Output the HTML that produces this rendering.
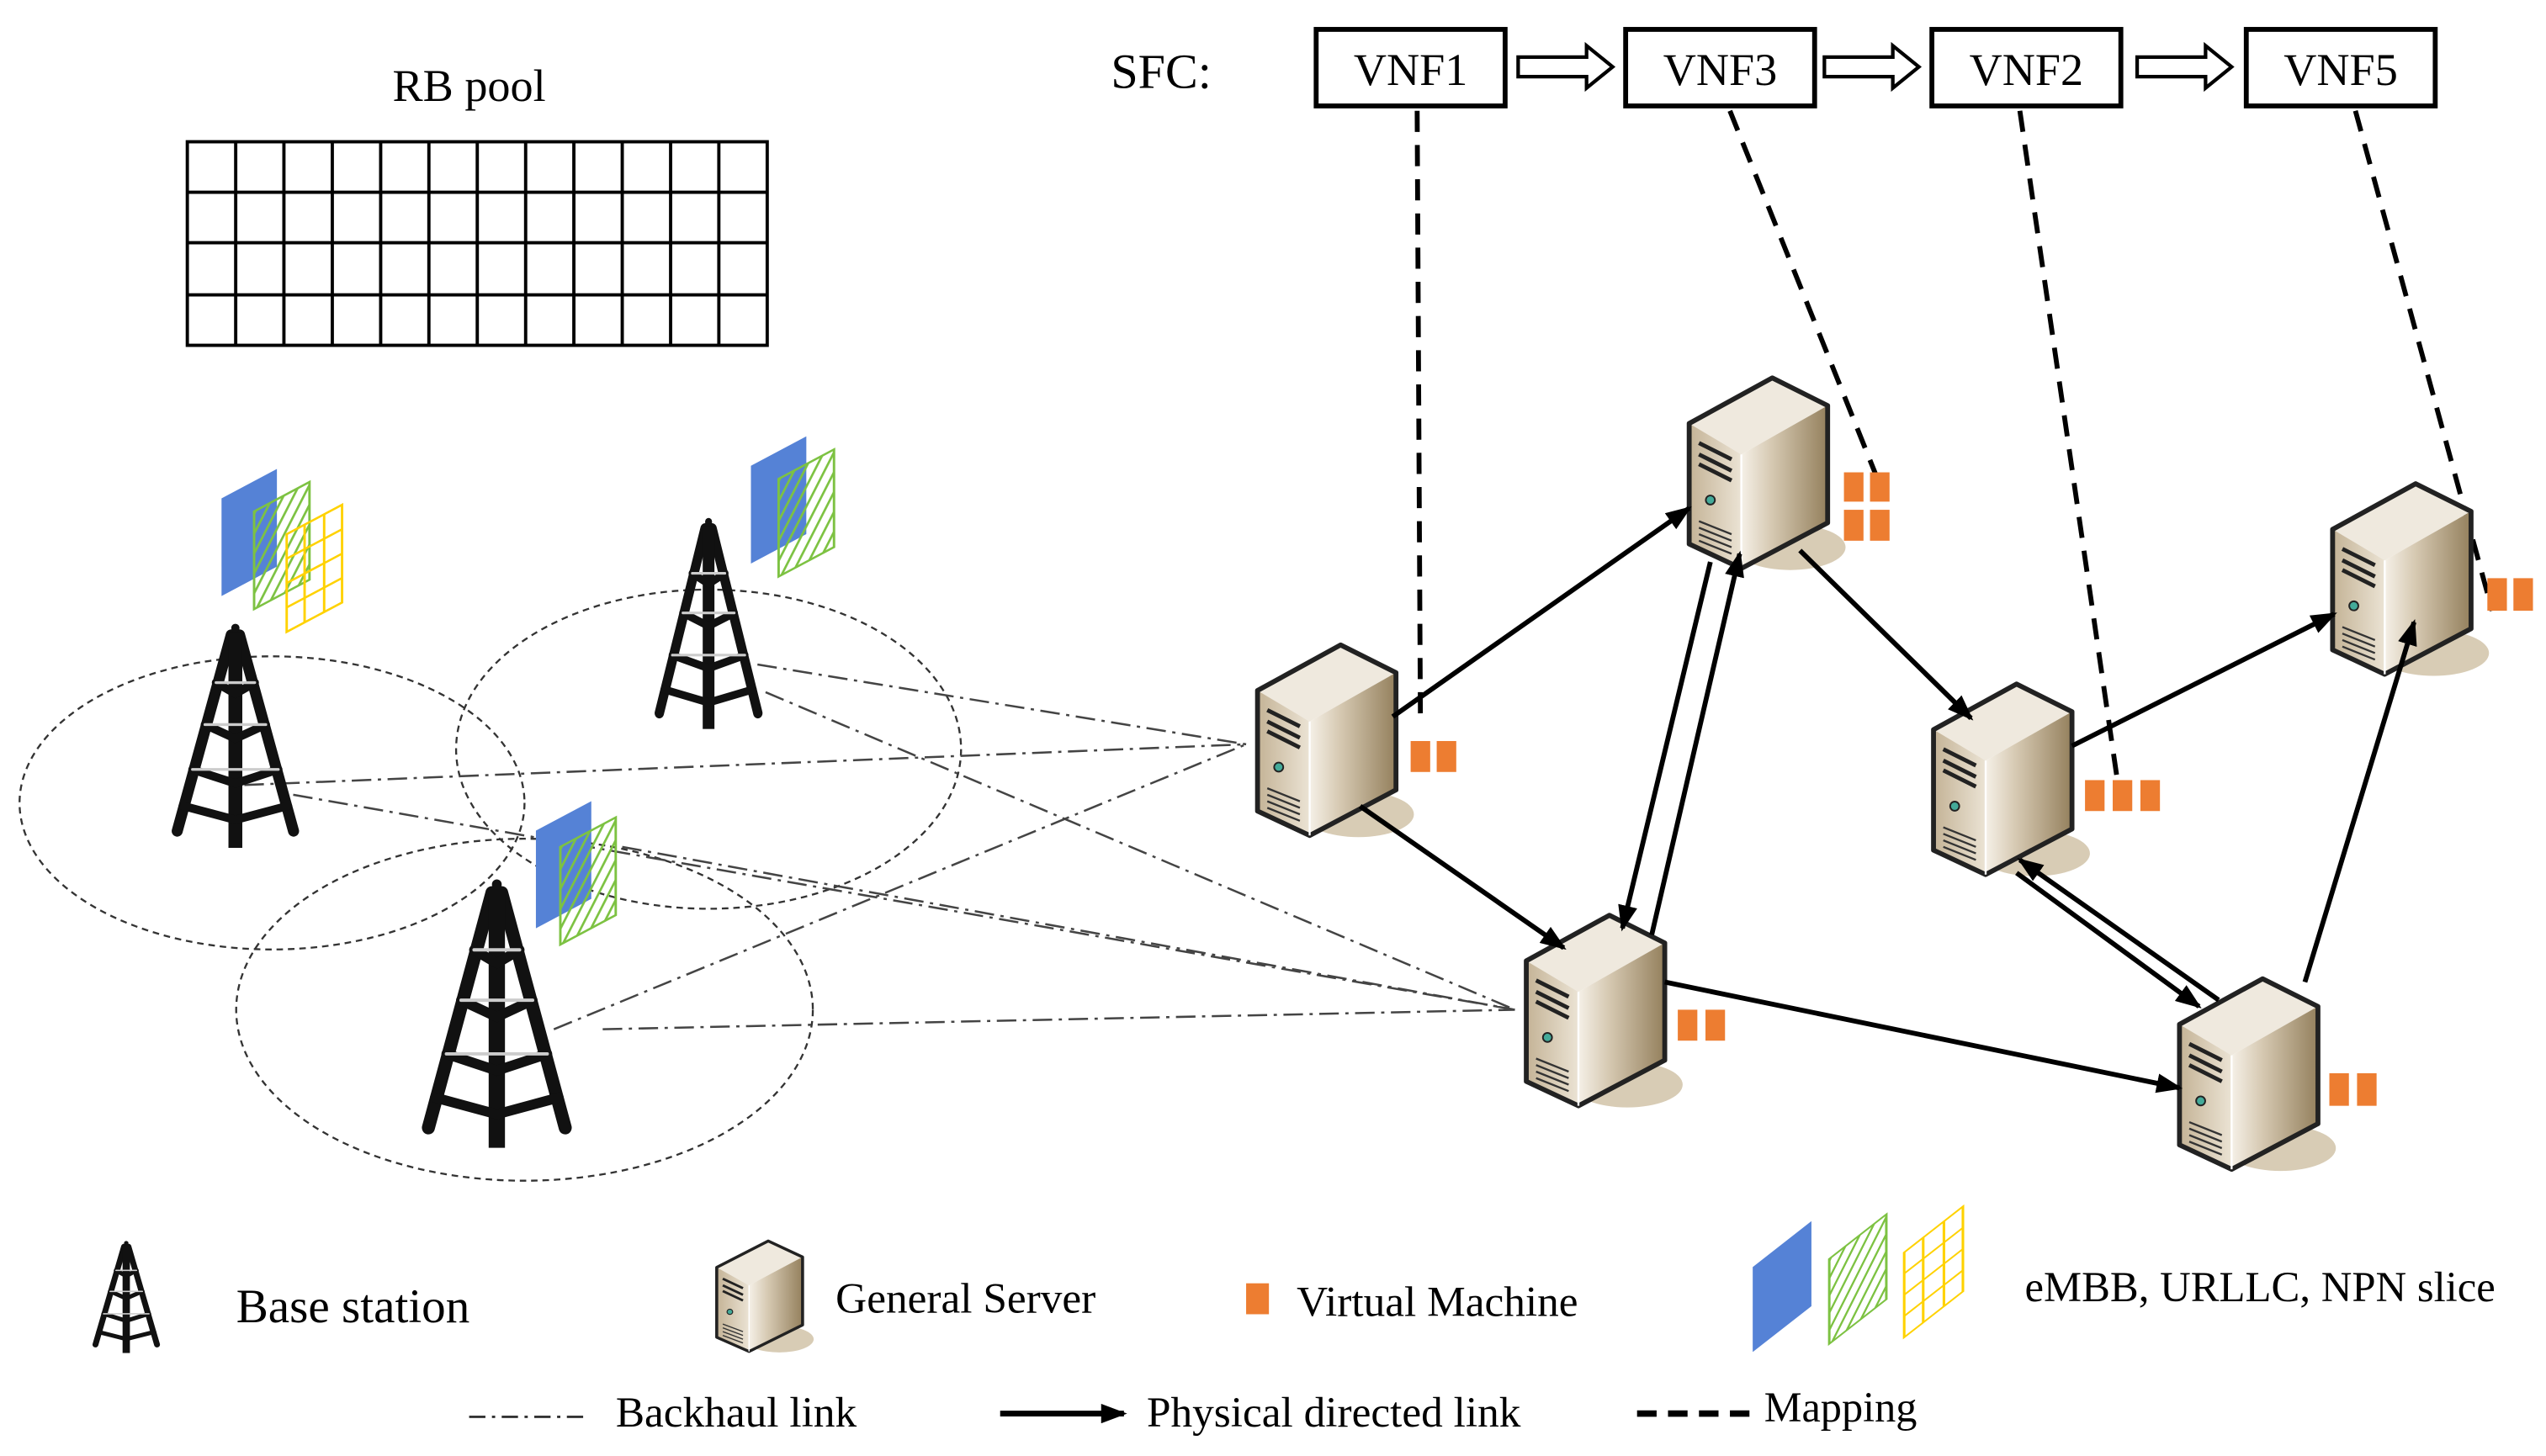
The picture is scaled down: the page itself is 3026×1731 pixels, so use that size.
<!DOCTYPE html>
<html><head><meta charset="utf-8"><style>html,body{margin:0;padding:0;background:#fff}svg{display:block}</style></head><body>
<svg width="3026" height="1731" viewBox="0 0 1563 894" xmlns="http://www.w3.org/2000/svg" font-family="'Liberation Serif', serif">
<defs>
<linearGradient id="rf" x1="0" x2="1" y1="0" y2="0"><stop offset="0" stop-color="#f5f0e7"/><stop offset="0.35" stop-color="#d6c9b2"/><stop offset="1" stop-color="#94805d"/></linearGradient>
<linearGradient id="lf" x1="0" x2="1"><stop offset="0" stop-color="#c4b396"/><stop offset="1" stop-color="#ebe3d4"/></linearGradient>
<g id="srv">
<ellipse cx="62" cy="104" rx="34" ry="14" fill="#d8ccb5"/>
<polygon points="0,28 51,0 85,17 32,47" fill="#efe9de"/>
<polygon points="0,28 32,47 32,117 0,102" fill="url(#lf)"/>
<polygon points="32,47 85,17 85,89 32,117" fill="url(#rf)"/>
<polygon points="0,28 51,0 85,17 85,89 32,117 0,102" fill="none" stroke="#222" stroke-width="3" stroke-linejoin="round"/>
<line x1="32" y1="47" x2="32" y2="117" stroke="#fff" stroke-width="1.2"/>
<path d="M6,40 L26,50 M6,47 L26,57 M6,53 L26,63" stroke="#222" stroke-width="2.5"/>
<circle cx="13" cy="75" r="2.8" fill="#4a9" stroke="#222" stroke-width="1"/>
<path d="M6,88 L26,96 M6,92 L26,100 M6,96 L26,104 M6,100 L26,108" stroke="#333" stroke-width="1.2"/>
</g>
<g id="twr" fill="none" stroke="#111" stroke-linecap="round">
<path d="M47,8 L8,148 M53,8 L92,148" stroke-width="8"/>
<rect x="45" y="6" width="10" height="154" fill="#111" stroke="none"/>
<path d="M36,42 L50,50 L64,42 M28,72 L50,82 L72,72 M19,104 L50,114 L81,104 M12,130 L50,140 L88,130" stroke-width="6"/>
<path d="M36,42 L64,42 M28,72 L72,72 M19,104 L81,104" stroke="#ccc" stroke-width="2"/>
<circle cx="50" cy="3" r="3" fill="#111" stroke="none"/>
</g>
<pattern id="hatch" width="7" height="7" patternUnits="userSpaceOnUse" patternTransform="rotate(35)"><line x1="0" y1="0" x2="0" y2="7" stroke="#7dc242" stroke-width="3.5"/></pattern>
<g id="sl3"><rect x="0" y="0" width="34" height="60" fill="#5582d6"/></g>
<g id="slg"><rect x="0" y="0" width="34" height="60" fill="url(#hatch)" stroke="#7dc242" stroke-width="1.5"/></g>
<g id="sly" fill="none" stroke="#ffd200" stroke-width="1.5"><rect x="0" y="0" width="34" height="60"/><path d="M11,0V60M23,0V60M0,15H34M0,30H34M0,45H34"/></g>
<marker id="ah" markerUnits="userSpaceOnUse" markerWidth="16" markerHeight="12" refX="14" refY="6" orient="auto"><path d="M0,0 L16,6 L0,12 z" fill="#000"/></marker>
</defs>

<text x="288" y="62" font-size="28" text-anchor="middle">RB pool</text>
<g stroke="#000" stroke-width="2" fill="none">
<rect x="115" y="87" width="356" height="125"/>
<path d="M144.7,87V212M174.3,87V212M204,87V212M233.7,87V212M263.3,87V212M293,87V212M322.7,87V212M352.3,87V212M382,87V212M411.7,87V212M441.3,87V212M115,118H471M115,149H471M115,181H471"/>
</g>

<text x="682" y="54" font-size="30">SFC:</text>
<g stroke="#000" stroke-width="3" fill="#fff">
<rect x="808" y="18" width="116" height="47"/><rect x="998" y="18" width="116" height="47"/><rect x="1186" y="18" width="116" height="47"/><rect x="1379" y="18" width="116" height="47"/>
</g>
<g font-size="28" text-anchor="middle"><text x="866" y="52">VNF1</text><text x="1056" y="52">VNF3</text><text x="1244" y="52">VNF2</text><text x="1437" y="52">VNF5</text></g>
<g fill="#fff" stroke="#000" stroke-width="2.2">
<polygon points="932,35 974,35 974,28 990,41 974,54 974,47 932,47"/>
<polygon points="1120,35 1162,35 1162,28 1178,41 1162,54 1162,47 1120,47"/>
<polygon points="1312,35 1354,35 1354,28 1370,41 1354,54 1354,47 1312,47"/>
</g>

<g fill="none" stroke="#333" stroke-width="1.2" stroke-dasharray="4,3">
<ellipse cx="167" cy="493" rx="155" ry="90"/>
<ellipse cx="435" cy="460" rx="155" ry="98"/>
<ellipse cx="322" cy="620" rx="177" ry="105"/>
</g>
<g stroke="#444" stroke-width="1.3" stroke-dasharray="12,4,2,4" fill="none">
<path d="M150,482 L765,457 M180,488 L930,620 M465,408 L765,457 M470,425 L930,620 M340,632 L765,457 M370,632 L930,620 M382,520 L930,620"/>
</g>

<use href="#twr" transform="translate(102,383) scale(0.85,0.86)"/>
<use href="#twr" transform="translate(399,318) scale(0.72,0.81)"/>
<use href="#twr" transform="translate(255,540) scale(1.0,1.03)"/>

<g transform="translate(136,306) skewY(-28)"><use href="#sl3"/></g>
<g transform="translate(156,314) skewY(-28)"><use href="#slg"/></g>
<g transform="translate(176,328) skewY(-28)"><use href="#sly"/></g>
<g transform="translate(461,286) skewY(-28)"><use href="#sl3"/></g>
<g transform="translate(478,294) skewY(-28)"><use href="#slg"/></g>
<g transform="translate(329,510) skewY(-28)"><use href="#sl3"/></g>
<g transform="translate(344,520) skewY(-28)"><use href="#slg"/></g>

<g stroke="#000" stroke-width="3" stroke-dasharray="13,8" fill="none">
<path d="M870,68 L872,442 M1062,68 L1157,305 M1240,68 L1300,480 M1446,68 L1530,375"/>
</g>

<use href="#srv" transform="translate(772,396)"/>
<use href="#srv" transform="translate(1037,232)"/>
<use href="#srv" transform="translate(937,562)"/>
<use href="#srv" transform="translate(1187,420)"/>
<use href="#srv" transform="translate(1432,297)"/>
<use href="#srv" transform="translate(1338,601)"/>

<g stroke="#000" stroke-width="3" fill="none" marker-end="url(#ah)">
<path d="M855,440 L1037,312"/>
<path d="M835,495 L960,582"/>
<path d="M1050,345 L996,570"/>
<path d="M1014,574 L1068,340"/>
<path d="M1105,338 L1210,441"/>
<path d="M1022,603 L1338,668"/>
<path d="M1272,458 L1433,377"/>
<path d="M1362,614 L1240,528"/>
<path d="M1238,536 L1350,618"/>
<path d="M1415,603 L1482,382"/>
</g>

<g fill="#ed7d31">
<rect x="866" y="455" width="12" height="19"/><rect x="882" y="455" width="12" height="19"/>
<rect x="1132" y="290" width="12" height="18"/><rect x="1148" y="290" width="12" height="18"/><rect x="1132" y="313" width="12" height="19"/><rect x="1148" y="313" width="12" height="19"/>
<rect x="1030" y="620" width="12" height="19"/><rect x="1047" y="620" width="12" height="19"/>
<rect x="1280" y="479" width="12" height="19"/><rect x="1297" y="479" width="12" height="19"/><rect x="1314" y="479" width="12" height="19"/>
<rect x="1527" y="355" width="12" height="20"/><rect x="1543" y="355" width="12" height="20"/>
<rect x="1430" y="659" width="12" height="20"/><rect x="1447" y="659" width="12" height="20"/>
</g>

<use href="#twr" transform="translate(55,762) scale(0.45,0.43)"/>
<text x="145" y="812" font-size="29.5">Base station</text>
<use href="#srv" transform="translate(440,762) scale(0.62,0.58)"/>
<text x="513" y="806" font-size="26.5">General Server</text>
<rect x="765" y="788" width="14" height="19" fill="#ed7d31"/>
<text x="796" y="808" font-size="26.5">Virtual Machine</text>
<g transform="translate(1076,778) skewY(-38) scale(1.06,0.87)"><use href="#sl3"/></g>
<g transform="translate(1123,773) skewY(-38) scale(1.03,0.87)"><use href="#slg"/></g>
<g transform="translate(1169,769) skewY(-38) scale(1.06,0.87)"><use href="#sly"/></g>
<text x="1243" y="799" font-size="26.2">eMBB, URLLC, NPN slice</text>

<path d="M288,870 L360,870" stroke="#333" stroke-width="1.5" stroke-dasharray="10,4,2,4"/>
<text x="378" y="876" font-size="26.5">Backhaul link</text>
<path d="M614,868 L690,868" stroke="#000" stroke-width="3.5" marker-end="url(#ah)"/>
<text x="704" y="876" font-size="26.5">Physical directed link</text>
<path d="M1005,868 L1077,868" stroke="#000" stroke-width="4" stroke-dasharray="12,7"/>
<text x="1083" y="873" font-size="26">Mapping</text>
</svg>
</body></html>
